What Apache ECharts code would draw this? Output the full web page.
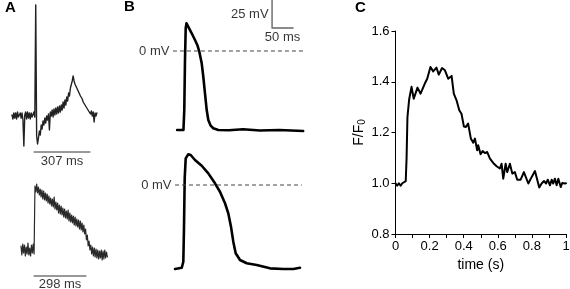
<!DOCTYPE html>
<html><head><meta charset="utf-8">
<script src="https://cdn.jsdelivr.net/npm/echarts@6/dist/echarts.min.js"></script>
<style>html,body{margin:0;padding:0;background:#fff}#c{width:570px;height:289px}</style>
</head><body><div id="c"></div>
<script>
// ---------- DATA ----------
// Panel A: optical recordings (arbitrary units), uniformly sampled
const aTopT0 = 11, aTopDt = 5; // ms
const aTopVals = [1,-3,3,-2,3,-3,4,-1,-3,3,-2,3,-4,-30,1,4,-3,4,-2,3,-3,3,-1,-3,4,-1,111,-20,-28,-22,-15,-19,-9,-13,-5,-9,-2,-7,0,-4,2,-14,4,0,6,-1,7,1,8,2,9,3,10,4,11,6,14,8,16,11,19,15,23,20,28,28,35,40,35,32,30,28,26,24,22,20,18,17,14,13,11,10,8,7,5,6,2,5,0,4,-6,3,0,3];
const aBotT0 = 63, aBotDt = 5; // ms
const aBotVals = [4,-5,6,-3,5,-6,3,-4,7,-5,2,-6,5,-3,6,-4,64,58,66,57,63,55,61,53,60,51,59,50,57,49,56,47,54,46,52,44,51,43,53,41,48,40,47,37,45,36,44,35,42,33,41,32,39,31,40,29,37,28,35,27,34,25,33,24,31,23,30,21,29,20,27,18,25,16,21,10,15,4,9,0,5,-4,3,-6,2,-7,1,-8,0,-9,-1,-8,0,-10,-1,-9,0,-8,-2,-7];
const aTopScale = [131.5, 307]; // start (ms), length (ms)
const aBotScale = [137.5, 298];
const aTopScaleLabel = '307 ms', aBotScaleLabel = '298 ms';

// Panel B: action potentials (ms, mV)
const bTopT = [17,32,34,35.7,37.4,39.3,43.6,51.7,59.5,65,69.8,75.5,79.3,83.3,87.4,91.2,96.9,103,115,140,174,214,260,317];
const bTopV = [-70.5,-70.5,-52.7,-8,20.5,24.7,23.2,15.8,9.8,5.4,-0.6,-11,-23,-37.8,-52.7,-61.6,-66.7,-69,-70.5,-70.8,-69.9,-71,-70.6,-71.4];
const bBotT = [12,28,31.7,33.3,35,37.4,43.6,49.3,59.5,75.5,91.2,107.1,119,131,138.8,145.2,150.7,156.4,166.7,182.6,206.4,238.1,269.8,293.6,309.5];
const bBotV = [-75,-73.9,-68.5,-38.7,6,23.8,27.4,26.8,22.3,17.2,10.4,1.5,-6,-16.3,-25.3,-37.2,-50.6,-61,-67,-69.9,-71.4,-74.4,-75,-75,-73.9];
const bTopZero = [7, 321];   // ms extent of 0 mV reference line
const bBotZero = [12, 314];
const zeroLabel = '0 mV';
const bScaleMs = 50, bScaleMv = 25;
const bScaleCornerMs = 243;
const bScaleLabels = ['25 mV', '50 ms'];

// Panel C: Ca transient
const cTime = [0,0.01,0.02,0.03,0.04,0.05,0.06,0.065,0.07,0.08,0.094,0.107,0.129,0.147,0.172,0.186,0.205,0.221,0.24,0.254,0.273,0.29,0.309,0.319,0.329,0.342,0.358,0.374,0.387,0.401,0.413,0.426,0.442,0.456,0.466,0.479,0.485,0.499,0.511,0.524,0.538,0.554,0.573,0.593,0.612,0.622,0.632,0.646,0.655,0.671,0.685,0.700,0.714,0.734,0.753,0.779,0.799,0.818,0.843,0.857,0.871,0.883,0.893,0.906,0.916,0.925,0.935,0.945,0.955,0.969,0.978,0.994,1.0];
const cVal = [1.0,0.99,1.0,0.99,1.0,0.995,1.008,1.10,1.26,1.33,1.38,1.333,1.377,1.353,1.393,1.412,1.458,1.441,1.456,1.428,1.454,1.445,1.412,1.405,1.423,1.353,1.327,1.288,1.274,1.224,1.222,1.235,1.176,1.160,1.176,1.13,1.15,1.114,1.127,1.119,1.123,1.097,1.080,1.067,1.058,1.077,1.018,1.077,1.044,1.077,1.038,1.044,1.014,1.014,1.044,0.999,1.025,1.048,0.983,0.999,1.009,0.999,1.014,0.992,1.014,0.999,1.018,0.992,1.018,0.985,1.001,0.999,1.0];
const cXLabels = ['0','0.2','0.4','0.6','0.8','1'];
const cYLabels = ['0.8','1.0','1.2','1.4','1.6'];
const cXName = 'time (s)';
const cYName = 'F/F{s|0}';
const panelLetters = ['A','B','C'];

// ---------- LAYOUT ----------
const FONT = 'Liberation Sans, Arial, Helvetica, sans-serif';
const msPerPx = 50/21, mvPerPx = 25/28;
const G = {
  aTop: {left:10, top:0, width:100, height:155, xMax:548, yMin:-39, yMax:116},
  aBot: {left:10, top:170, width:100, height:110, xMax:573, yMin:-30, yMax:80},
  bTop: {left:170, top:0, width:140, height:140, zeroPx:51},
  bBot: {left:170, top:140, width:140, height:140, zeroPx:45},
  c:    {left:395.5, top:31, width:170.5, height:203}
};
function bRange(g){ return {min: -(g.height-g.zeroPx)*mvPerPx, max: g.zeroPx*mvPerPx, xMax: g.width*msPerPx}; }
const bTopR = bRange(G.bTop), bBotR = bRange(G.bBot);

const grids = ['aTop','aBot','bTop','bBot','c'].map(k => ({
  left:G[k].left, top:G[k].top, width:G[k].width, height:G[k].height,
  containLabel:false, outerBoundsMode:'none'
}));

const hiddenX = (i,max) => ({gridIndex:i, type:'value', min:0, max:max, show:false});
const hiddenY = (i,min,max) => ({gridIndex:i, type:'value', min:min, max:max, show:false});

const uni = (t0,dt,vals) => vals.map((v,i)=>[t0+i*dt, v]);
const zip = (xs,ys) => xs.map((x,i)=>[x, ys[i]]);

const traceLine = (i, data, color, width) => ({
  type:'line', xAxisIndex:i, yAxisIndex:i, data:data, symbol:'none', showSymbol:false,
  lineStyle:{color:color, width:width, join:'round', cap:'round'}, clip:false, silent:true, animation:false
});
const textPts = (i, pts) => ({
  type:'scatter', xAxisIndex:i, yAxisIndex:i, symbolSize:1, itemStyle:{color:'rgba(0,0,0,0)'},
  silent:true, animation:false, clip:false,
  data: pts.map(p => ({value:[p.x,p.y], label:{show:true, formatter:p.text, position:p.pos, distance:p.d,
      color:'#000', fontSize:13, fontFamily:FONT}}))
});

const aTopBarY = G.aTop.yMin + 3, aBotBarY = G.aBot.yMin + 4;
const bBarTop = bTopR.max, bBarBottom = bTopR.max - bScaleMv;

const option = {
  animation:false,
  backgroundColor:'#fff',
  grid: grids,
  xAxis: [
    hiddenX(0, G.aTop.xMax), hiddenX(1, G.aBot.xMax), hiddenX(2, bTopR.xMax), hiddenX(3, bBotR.xMax),
    {gridIndex:4, type:'value', min:0, max:1, interval:0.1,
     axisLine:{show:true, onZero:false, lineStyle:{color:'#000', width:1}},
     axisTick:{show:true, length:4, lineStyle:{color:'#000', width:1}},
     axisLabel:{color:'#000', fontSize:13, fontFamily:FONT, margin:6,
       formatter: v => { const k = Math.round(v*10); return k%2===0 ? cXLabels[k/2] : ''; }},
     splitLine:{show:false},
     name:cXName, nameLocation:'middle', nameGap:20,
     nameTextStyle:{color:'#000', fontSize:14, fontFamily:FONT}}
  ],
  yAxis: [
    hiddenY(0, G.aTop.yMin, G.aTop.yMax), hiddenY(1, G.aBot.yMin, G.aBot.yMax),
    hiddenY(2, bTopR.min, bTopR.max), hiddenY(3, bBotR.min, bBotR.max),
    {gridIndex:4, type:'value', min:0.8, max:1.6, interval:0.2,
     axisLine:{show:true, onZero:false, lineStyle:{color:'#000', width:1}},
     axisTick:{show:true, length:4, lineStyle:{color:'#000', width:1}},
     axisLabel:{color:'#000', fontSize:13, fontFamily:FONT, margin:6,
       formatter: v => cYLabels[Math.round((v-0.8)/0.2)]},
     splitLine:{show:false},
     name:cYName, nameLocation:'middle', nameGap:28,
     nameTextStyle:{color:'#000', fontSize:14, fontFamily:FONT,
       rich:{s:{fontSize:10, fontFamily:FONT, color:'#000', padding:[7,0,0,0]}}}}
  ],
  graphic: [
    {type:'text', left:5, top:0, style:{text:panelLetters[0], font:'bold 15px '+FONT, fill:'#000'}},
    {type:'text', left:124, top:-1, style:{text:panelLetters[1], font:'bold 15px '+FONT, fill:'#000'}},
    {type:'text', left:355, top:0, style:{text:panelLetters[2], font:'bold 15px '+FONT, fill:'#000'}}
  ],
  series: [
    traceLine(0, uni(aTopT0, aTopDt, aTopVals), '#222', 1.4),
    traceLine(0, [[aTopScale[0], aTopBarY],[aTopScale[0]+aTopScale[1], aTopBarY]], '#333', 1),
    textPts(0, [{x:aTopScale[0]+aTopScale[1]/2, y:aTopBarY, text:aTopScaleLabel, pos:'bottom', d:2}]),
    traceLine(1, uni(aBotT0, aBotDt, aBotVals), '#2a2a2a', 1.2),
    traceLine(1, [[aBotScale[0], aBotBarY],[aBotScale[0]+aBotScale[1], aBotBarY]], '#333', 1),
    textPts(1, [{x:aBotScale[0]+aBotScale[1]/2, y:aBotBarY, text:aBotScaleLabel, pos:'bottom', d:1}]),
    traceLine(2, zip(bTopT, bTopV), '#000', 2.6),
    Object.assign(traceLine(2, [[bTopZero[0],0],[bTopZero[1],0]], '#444', 1.2), {lineStyle:{color:'#444', width:1.2, type:[4,3]}}),
    traceLine(2, [[bScaleCornerMs, bBarTop],[bScaleCornerMs, bBarBottom],[bScaleCornerMs+bScaleMs, bBarBottom]], '#666', 1.4),
    textPts(2, [
      {x:bTopZero[0], y:0, text:zeroLabel, pos:'left', d:3},
      {x:bScaleCornerMs, y:(bBarTop+bBarBottom)/2, text:bScaleLabels[0], pos:'left', d:3},
      {x:bScaleCornerMs+bScaleMs/2, y:bBarBottom, text:bScaleLabels[1], pos:'bottom', d:2}
    ]),
    traceLine(3, zip(bBotT, bBotV), '#000', 2.6),
    Object.assign(traceLine(3, [[bBotZero[0],0],[bBotZero[1],0]], '#444', 1.2), {lineStyle:{color:'#444', width:1.2, type:[4,3]}}),
    textPts(3, [{x:bBotZero[0], y:0, text:zeroLabel, pos:'left', d:3}]),
    traceLine(4, zip(cTime, cVal), '#000', 2)
  ]
};
const chart = echarts.init(document.getElementById('c'), null, {renderer:'canvas'});
chart.setOption(option);
</script></body></html>
